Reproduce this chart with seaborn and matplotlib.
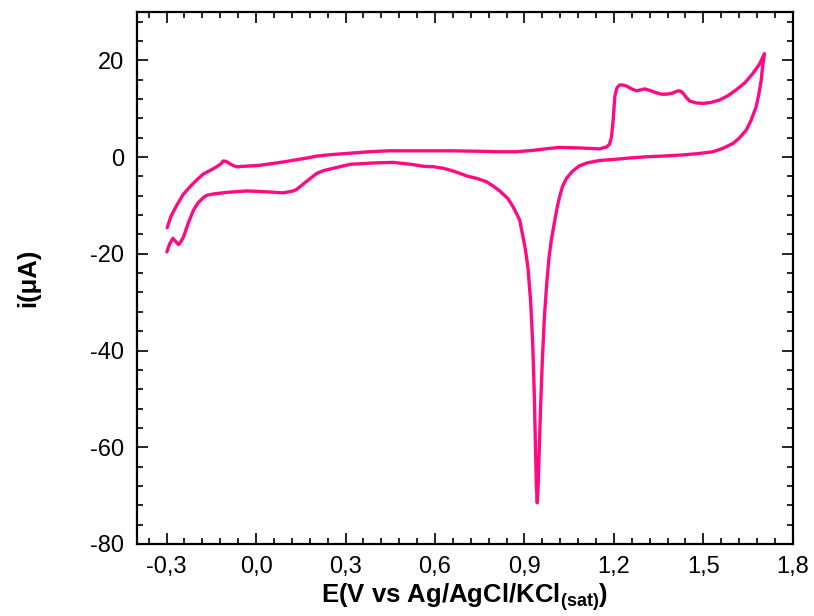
import numpy as np
import pandas as pd
import matplotlib
matplotlib.use("Agg")
import matplotlib.pyplot as plt
from matplotlib.ticker import MultipleLocator, FuncFormatter
import seaborn as sns

# Forward (anodic) scan, upper branch
x_fwd = [-0.298, -0.285, -0.266, -0.245, -0.221, -0.200, -0.177, -0.155, -0.132, -0.118,
         -0.110, -0.100, -0.087, -0.075, -0.065, -0.040, -0.020, 0.013, 0.058, 0.092,
         0.130, 0.170, 0.203, 0.250, 0.315, 0.380, 0.449, 0.550, 0.650, 0.750,
         0.817, 0.873, 0.930, 0.985, 1.018, 1.080, 1.152, 1.175, 1.185, 1.192,
         1.198, 1.203, 1.210, 1.219, 1.230, 1.242, 1.260, 1.275, 1.290, 1.303,
         1.320, 1.337, 1.360, 1.376, 1.395, 1.415, 1.425, 1.432, 1.443, 1.454,
         1.475, 1.499, 1.525, 1.554, 1.580, 1.610, 1.640, 1.666, 1.688, 1.705]
i_fwd = [-14.6, -12.2, -10.0, -7.8, -6.1, -4.8, -3.5, -2.8, -2.0, -1.4,
         -0.8, -0.9, -1.4, -1.8, -2.0, -1.9, -1.8, -1.7, -1.3, -1.0,
         -0.6, -0.2, 0.2, 0.5, 0.8, 1.1, 1.3, 1.3, 1.3, 1.2,
         1.1, 1.1, 1.4, 1.8, 2.0, 1.9, 1.7, 2.1, 2.6, 4.2,
         8.0, 12.5, 14.3, 14.9, 14.9, 14.7, 14.1, 13.7, 13.9, 14.1,
         13.8, 13.4, 13.0, 13.0, 13.2, 13.7, 13.6, 13.2, 12.3, 11.6,
         11.2, 11.1, 11.3, 11.8, 12.6, 13.9, 15.4, 17.3, 19.2, 21.4]

# Reverse (cathodic) scan, lower branch
x_rev = [1.705, 1.698, 1.694, 1.686, 1.677, 1.660, 1.644, 1.620, 1.599, 1.565,
         1.532, 1.480, 1.420, 1.360, 1.309, 1.250, 1.197, 1.152, 1.110, 1.085,
         1.074, 1.060, 1.041, 1.028, 1.018, 1.010, 1.002, 0.990, 0.982, 0.975,
         0.967, 0.960, 0.954, 0.949, 0.946, 0.943, 0.940, 0.937, 0.933, 0.928,
         0.921, 0.912, 0.903, 0.895, 0.884, 0.872, 0.862, 0.845, 0.817, 0.795,
         0.773, 0.740, 0.706, 0.667, 0.627, 0.595, 0.561, 0.520, 0.460, 0.400,
         0.315, 0.260, 0.226, 0.203, 0.170, 0.136, 0.125, 0.092, 0.040, -0.031,
         -0.098, -0.140, -0.165, -0.177, -0.195, -0.210, -0.227, -0.243, -0.252, -0.260,
         -0.270, -0.279, -0.290, -0.299]
i_rev = [21.4, 18.5, 15.9, 13.0, 10.4, 7.6, 5.6, 3.9, 2.8, 1.8,
         1.1, 0.7, 0.4, 0.2, 0.06, -0.2, -0.5, -0.7, -1.2, -1.8,
         -2.3, -3.0, -4.4, -6.0, -8.2, -10.3, -13.0, -17.2, -21.0, -26.0,
         -33.0, -42.0, -52.0, -62.0, -68.0, -71.5, -68.0, -60.0, -49.0, -39.0,
         -30.0, -23.0, -19.0, -16.5, -13.0, -11.5, -10.3, -8.6, -7.0, -6.0,
         -5.1, -4.4, -3.9, -3.0, -2.3, -2.0, -1.9, -1.5, -1.1, -1.2,
         -1.5, -2.3, -2.8, -3.4, -5.0, -6.7, -7.0, -7.4, -7.2, -7.0,
         -7.3, -7.6, -7.9, -8.4, -9.5, -11.0, -13.6, -16.5, -17.5, -18.1,
         -17.4, -16.8, -18.0, -19.6]

x_ticks = [-0.3, 0.0, 0.3, 0.6, 0.9, 1.2, 1.5, 1.8]
y_ticks = [-80, -60, -40, -20, 0, 20]

df = pd.DataFrame({"E": x_fwd + x_rev, "i": i_fwd + i_rev})

sns.set_theme(style="ticks")
plt.rcParams["font.family"] = ["Liberation Sans", "DejaVu Sans"]
plt.rcParams["mathtext.fontset"] = "custom"
plt.rcParams["mathtext.rm"] = "Liberation Sans:bold"
plt.rcParams["mathtext.bf"] = "Liberation Sans:bold"
plt.rcParams["mathtext.it"] = "Liberation Sans:bold"
plt.rcParams["text.color"] = "black"
plt.rcParams["axes.labelcolor"] = "black"
plt.rcParams["xtick.color"] = "black"
plt.rcParams["ytick.color"] = "black"

fig = plt.figure(figsize=(8.14, 6.16), dpi=100)
ax = fig.add_axes([0.168, 0.117, 0.806, 0.8635])

sns.lineplot(data=df, x="E", y="i", sort=False, estimator=None,
             color="#FF0A82", linewidth=2.4, ax=ax)

ax.set_xlim(-0.4, 1.8)
ax.set_ylim(-80, 30)
ax.set_xticks(x_ticks)
ax.set_yticks(y_ticks)
ax.xaxis.set_minor_locator(MultipleLocator(0.06))
ax.yaxis.set_minor_locator(MultipleLocator(4))
ax.xaxis.set_major_formatter(FuncFormatter(lambda v, p: f"{v:.1f}".replace(".", ",").replace("-0,0", "0,0")))
ax.yaxis.set_major_formatter(FuncFormatter(lambda v, p: f"{v:.0f}"))

ax.tick_params(which="both", direction="in", top=True, right=True, width=1.2,
               color="black", labelcolor="black")
ax.tick_params(which="major", length=8, labelsize=17, pad=9)
ax.tick_params(which="minor", length=4)
for sp in ax.spines.values():
    sp.set_linewidth(1.6)
    sp.set_color("black")

ax.set_xlabel(r"E(V vs Ag/AgCl/KCl$_{\mathrm{(sat)}}$)", fontsize=18.5, fontweight="bold",
              labelpad=2, color="black")
ax.set_ylabel("i(μA)", fontsize=18.5, fontweight="bold", labelpad=36, color="black")
ax.grid(False)

fig.savefig("out.png", dpi=100, facecolor="white")
